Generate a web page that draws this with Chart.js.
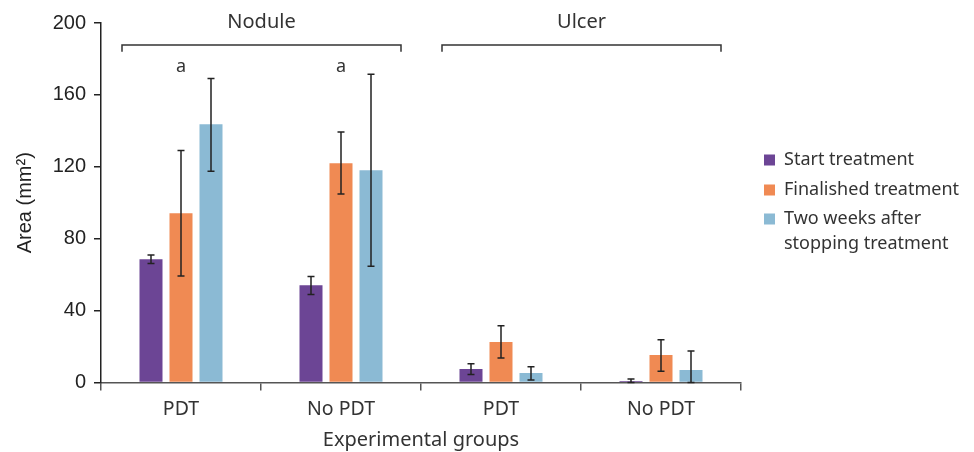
<!DOCTYPE html>
<html>
<head>
    <title>Lesion area by group</title>
    <script src="https://cdn.jsdelivr.net/npm/chart.js"></script>
    <style>
        body { margin: 0; background: #fff; }
        #wrap { width: 974px; height: 452px; }
    </style>
</head>
<body>
    <div id="wrap"><canvas id="barChart"></canvas></div>

    <script>
        // values
        var categories = ['PDT', 'No PDT', 'PDT', 'No PDT'];
        var lesionGroups = ['Nodule', 'Ulcer'];   // each spans two categories
        var sigLetters = ['a', 'a', '', ''];      // drawn over the finalised bars
        var yTicks = [0, 40, 80, 120, 160, 200];

        var seriesNames = ['Start treatment', 'Finalished treatment', 'Two weeks after stopping treatment'];
        var startVals = [68.6, 54.1, 7.5, 0.8];
        var startLow = [66.2, 48.9, 4.4, 0];
        var startHigh = [71.0, 59.0, 10.5, 1.9];

        var finalVals = [94.2, 122.0, 22.5, 15.3];
        var finalLow = [59.3, 104.9, 13.6, 6.2];
        var finalHigh = [129.0, 139.4, 31.6, 23.8];

        var twoWeekVals = [143.7, 118.1, 5.3, 7.0];
        var twoWeekLow = [117.5, 64.7, 1.4, 0];
        var twoWeekHigh = [169.1, 171.5, 8.8, 17.5];

        var colors = ['#6c4595', '#f08a53', '#8bbad4'];
        var legendLines = [['Start treatment'], ['Finalished treatment'], ['Two weeks after', 'stopping treatment']];

        var errLow = [startLow, finalLow, twoWeekLow];
        var errHigh = [startHigh, finalHigh, twoWeekHigh];

        var errorBars = {
            id: 'errorBars',
            afterDatasetsDraw: function (chart) {
                var ctx = chart.ctx;
                var y = chart.scales.y;
                ctx.save();
                ctx.strokeStyle = '#222';
                ctx.lineWidth = 1.5;
                chart.data.datasets.forEach(function (ds, d) {
                    chart.getDatasetMeta(d).data.forEach(function (bar, i) {
                        var top = y.getPixelForValue(errHigh[d][i]);
                        var bot = y.getPixelForValue(errLow[d][i]);
                        ctx.beginPath();
                        ctx.moveTo(bar.x, top); ctx.lineTo(bar.x, bot);
                        ctx.moveTo(bar.x - 3.5, top); ctx.lineTo(bar.x + 3.5, top);
                        ctx.moveTo(bar.x - 3.5, bot); ctx.lineTo(bar.x + 3.5, bot);
                        ctx.stroke();
                    });
                });
                ctx.restore();
            }
        };

        var groupLabels = {
            id: 'groupLabels',
            afterDraw: function (chart) {
                var ctx = chart.ctx;
                var x = chart.scales.x;
                var y = chart.scales.y;
                var step = x.getPixelForValue(1) - x.getPixelForValue(0);
                ctx.save();
                ctx.strokeStyle = '#333';
                ctx.lineWidth = 1.5;
                ctx.fillStyle = '#333';
                ctx.textAlign = 'center';
                ctx.textBaseline = 'middle';
                lesionGroups.forEach(function (name, g) {
                    var x0 = x.getPixelForValue(g * 2) - step / 2 + 21;
                    var x1 = x.getPixelForValue(g * 2 + 1) + step / 2 - 20;
                    var yl = y.getPixelForValue(187.7);
                    var yt = y.getPixelForValue(184);
                    ctx.beginPath();
                    ctx.moveTo(x0, yt); ctx.lineTo(x0, yl); ctx.lineTo(x1, yl); ctx.lineTo(x1, yt);
                    ctx.stroke();
                    ctx.font = '20px "Noto Sans"';
                    ctx.fillText(name, (x0 + x1) / 2, y.getPixelForValue(200.5));
                });
                // significance letters
                var finMeta = chart.getDatasetMeta(1);
                ctx.font = '18px "Noto Sans"';
                sigLetters.forEach(function (s, i) {
                    if (s) ctx.fillText(s, finMeta.data[i].x, y.getPixelForValue(175.5));
                });

                // legend on the right
                ctx.textAlign = 'left';
                ctx.font = '18px "Noto Sans"';
                var rows = [160, 190, 219];
                legendLines.forEach(function (lines, d) {
                    ctx.fillStyle = colors[d];
                    ctx.fillRect(764, rows[d] - 5.5, 11, 11);
                    ctx.fillStyle = '#333';
                    lines.forEach(function (t, k) {
                        ctx.fillText(t, 784, rows[d] + k * 24.5);
                    });
                });
                ctx.restore();
            }
        };

        var ctx = document.getElementById('barChart').getContext('2d');
        var myChart = new Chart(ctx, {
            type: 'bar',
            data: {
                labels: categories,
                datasets: [
                    { label: seriesNames[0], data: startVals, backgroundColor: colors[0] },
                    { label: seriesNames[1], data: finalVals, backgroundColor: colors[1] },
                    { label: seriesNames[2], data: twoWeekVals, backgroundColor: colors[2] }
                ]
            },
            options: {
                responsive: true,
                maintainAspectRatio: false,
                animation: false,
                categoryPercentage: 0.5625,
                barPercentage: 0.767,
                layout: { padding: { top: 23, right: 233, bottom: 0, left: 0 } },
                plugins: {
                    legend: { display: false },
                    tooltip: { enabled: false }
                },
                scales: {
                    x: {
                        afterFit: function (s) { s.height = 69.5; },
                        border: { color: '#555', width: 1.5 },
                        grid: { drawOnChartArea: false, tickLength: 8, color: '#555', lineWidth: 1.5 },
                        ticks: { color: '#333', padding: 7, font: { family: 'Noto Sans', size: 19.5 } },
                        title: {
                            display: true, text: 'Experimental groups', color: '#333',
                            font: { family: 'Noto Sans', size: 20 }, padding: { top: 3, bottom: 0 }
                        }
                    },
                    y: {
                        min: 0, max: 200,
                        afterFit: function (s) { s.width = 101; },
                        afterBuildTicks: function (s) { s.ticks = yTicks.map(function (v) { return { value: v }; }); },
                        border: { color: '#222', width: 1.5 },
                        grid: { drawOnChartArea: false, tickLength: 7, color: '#222', lineWidth: 1.5 },
                        ticks: { color: '#222', padding: 8, font: { family: 'Liberation Sans', size: 20 } },
                        title: {
                            display: true, text: 'Area (mm²)', color: '#222',
                            font: { family: 'Liberation Sans', size: 20 }, padding: { top: 13, bottom: 0 }
                        }
                    }
                }
            },
            plugins: [errorBars, groupLabels]
        });
    </script>
</body>
</html>
